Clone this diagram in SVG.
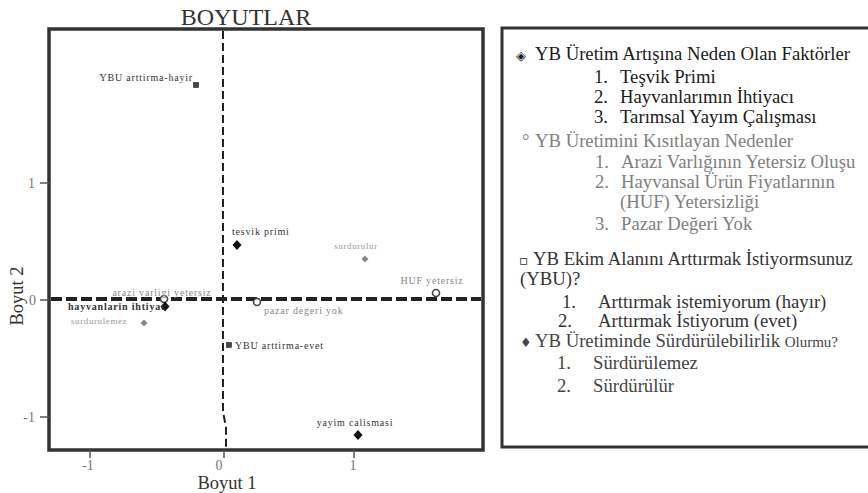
<svg xmlns="http://www.w3.org/2000/svg" width="868" height="493" viewBox="0 0 868 493">
<style>
text{font-family:"Liberation Serif","Times New Roman",serif}
.title{font-size:24px;fill:#333;text-anchor:middle}
.axlab{font-size:18.5px;fill:#333;text-anchor:middle}
.tick{font-size:14px;fill:#777}
.frame{fill:none;stroke:#333;stroke-width:3.5}
.tk{stroke:#555;stroke-width:1.5}
.lbl{font-size:10px;letter-spacing:0.8px;fill:#333}
.glbl{font-size:10px;letter-spacing:0.8px;fill:#888}
.slbl{font-size:9px;letter-spacing:0.6px;fill:#999}
.bd{fill:#111}
.gd{fill:#888}
.oc{fill:#fff;stroke:#444;stroke-width:1.6}
.sq{fill:#444;stroke:#222;stroke-width:0.6}
.lg{font-size:18.7px}
.sym{font-family:"DejaVu Sans",sans-serif}
.g1{fill:#1a1a1a}
.g2{fill:#808080}
.g3{fill:#333}
.g4{fill:#444}
</style>
<rect width="868" height="493" fill="#fff"/>
<text class="title" x="246" y="25">BOYUTLAR</text>
<g id="plot-frame">
<rect class="frame" x="49" y="29" width="434" height="421"/>
<line class="tk" x1="40" y1="183" x2="49" y2="183"/>
<line class="tk" x1="40" y1="300" x2="49" y2="300"/>
<line class="tk" x1="40" y1="417" x2="49" y2="417"/>
<line class="tk" x1="90" y1="450" x2="90" y2="458"/>
<line class="tk" x1="224" y1="450" x2="224" y2="458"/>
<line class="tk" x1="354" y1="450" x2="354" y2="458"/>
<text class="tick" x="35" y="188" text-anchor="end">1</text>
<text class="tick" x="36" y="305" text-anchor="end">0</text>
<text class="tick" x="35" y="422" text-anchor="end">-1</text>
<text class="tick" x="88" y="470" text-anchor="middle">-1</text>
<text class="tick" x="219" y="470" text-anchor="middle">0</text>
<text class="tick" x="353" y="470" text-anchor="middle">1</text>
<text class="axlab" x="227" y="489">Boyut 1</text>
<text class="axlab" transform="translate(23,296) rotate(-90)">Boyut 2</text>
</g>
<g id="connectors">
<path d="M223 31 L223 412 L226 427 L226 448" fill="none" stroke="#222" stroke-width="2" stroke-dasharray="8,4"/>
<line x1="51" y1="299" x2="481" y2="299" stroke="#222" stroke-width="4" stroke-dasharray="11,4"/>
</g>
<g id="node-ybu-hayir">
<rect class="sq" x="193.5" y="82.5" width="5" height="5"/>
<text class="lbl" x="193" y="81" text-anchor="end">YBU arttirma-hayir</text>
</g>
<g id="node-tesvik-primi">
<path class="bd" d="M237 240 L241.5 245 L237 250 L232.5 245 Z"/>
<text class="lbl" x="232" y="235">tesvik primi</text>
</g>
<g id="node-surdurulur">
<path class="gd" d="M365 255.5 L368.5 259 L365 262.5 L361.5 259 Z"/>
<text class="slbl" x="356" y="249" text-anchor="middle">surdurulur</text>
</g>
<g id="node-huf-yetersiz">
<circle class="oc" cx="436" cy="293" r="3.5"/>
<text class="glbl" x="432" y="284" text-anchor="middle">HUF yetersiz</text>
</g>
<g id="node-arazi">
<circle class="oc" cx="164" cy="299" r="3.5"/>
<text class="glbl" x="162" y="296" text-anchor="middle">arazi varligi yetersiz</text>
</g>
<g id="node-hayvanlarin">
<path class="bd" d="M165 301.5 L169.5 306.5 L165 311.5 L160.5 306.5 Z"/>
<text class="lbl" x="68" y="310" font-weight="bold" letter-spacing="0.5">hayvanlarin ihtiyac</text>
</g>
<g id="node-pazar">
<circle class="oc" cx="257" cy="302" r="3.5"/>
<text class="glbl" x="264" y="314">pazar degeri yok</text>
</g>
<g id="node-surdurulemez">
<path class="gd" d="M144 319.5 L147.5 323 L144 326.5 L140.5 323 Z"/>
<text class="slbl" x="71" y="324">surdurulemez</text>
</g>
<g id="node-ybu-evet">
<rect class="sq" x="226.5" y="342.5" width="5" height="5"/>
<text class="lbl" x="235" y="349">YBU arttirma-evet</text>
</g>
<g id="node-yayim">
<path class="bd" d="M358 430 L362.5 435 L358 440 L353.5 435 Z"/>
<text class="lbl" x="355" y="426" text-anchor="middle">yayim calismasi</text>
</g>
<g id="legend">
<rect x="502" y="28" width="380" height="419" fill="#fff" stroke="#333" stroke-width="3"/>
<g class="lg">
<text class="sym g1" x="516" y="60" font-size="13">◈</text>
<text class="g1" x="535" y="60">YB Üretim Artışına Neden Olan Faktörler</text>
<text class="g1" x="594" y="83">1.</text><text class="g1" x="620" y="83">Teşvik Primi</text>
<text class="g1" x="594" y="103">2.</text><text class="g1" x="620" y="103">Hayvanlarımın İhtiyacı</text>
<text class="g1" x="594" y="123">3.</text><text class="g1" x="620" y="123">Tarımsal Yayım Çalışması</text>
<text class="g2" x="522" y="147">°</text>
<text class="g2" x="535" y="147">YB Üretimini Kısıtlayan Nedenler</text>
<text class="g2" x="595" y="168">1.</text><text class="g2" x="621" y="168">Arazi Varlığının Yetersiz Oluşu</text>
<text class="g2" x="595" y="188">2.</text><text class="g2" x="621" y="188">Hayvansal Ürün Fiyatlarının</text>
<text class="g2" x="620" y="208">(HUF) Yetersizliği</text>
<text class="g2" x="595" y="230">3.</text><text class="g2" x="621" y="230">Pazar Değeri Yok</text>
<text class="sym g3" x="519" y="265" font-size="14">▫</text>
<text class="g3" x="533" y="265">YB Ekim Alanını Arttırmak İstiyormsunuz</text>
<text class="g3" x="520" y="285">(YBU)?</text>
<text class="g3" x="562" y="308">1.</text><text class="g3" x="598" y="308">Arttırmak istemiyorum (hayır)</text>
<text class="g3" x="558" y="327">2.</text><text class="g3" x="598" y="327">Arttırmak İstiyorum (evet)</text>
<text class="sym g4" x="520" y="347" font-size="13">♦</text>
<text class="g4" x="535" y="347">YB Üretiminde Sürdürülebilirlik <tspan font-size="15">Olurmu?</tspan></text>
<text class="g4" x="557" y="369">1.</text><text class="g4" x="593" y="369">Sürdürülemez</text>
<text class="g4" x="557" y="392">2.</text><text class="g4" x="593" y="392">Sürdürülür</text>
</g>
</g>
</svg>
